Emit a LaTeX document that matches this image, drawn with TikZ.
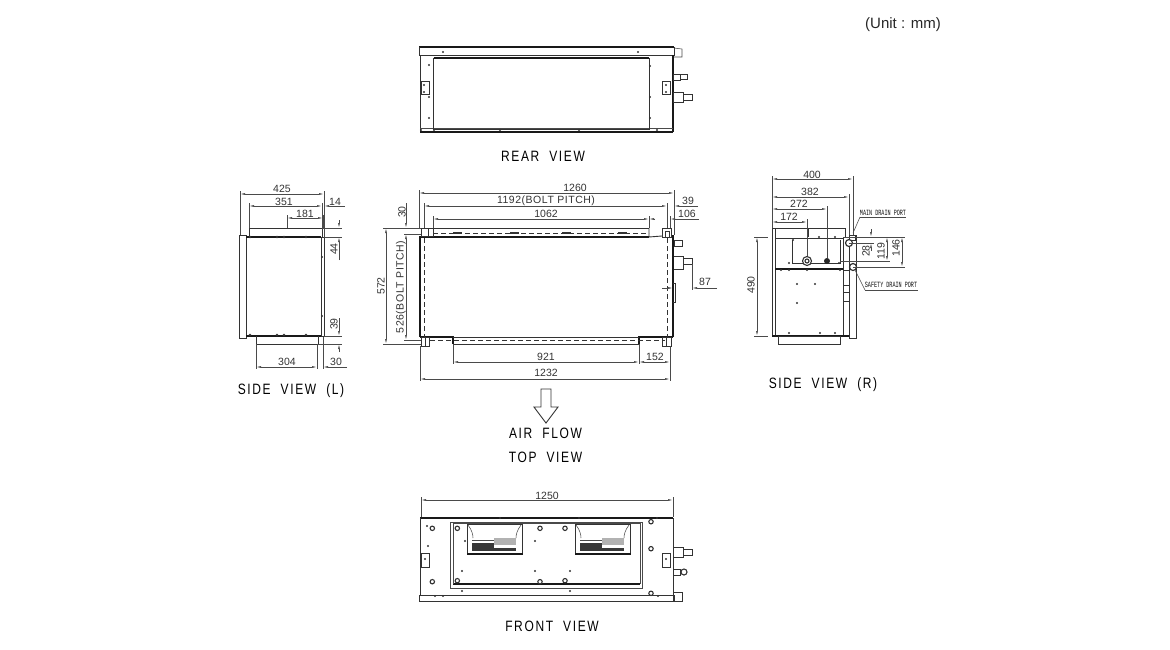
\documentclass[tikz,border=0pt]{standalone}
\usepackage{fontspec}
\setmainfont{Liberation Sans}
\newfontfamily\cadfont[FakeStretch=0.8,LetterSpace=11,WordSpace=2]{Liberation Sans}
\newfontfamily\boltfont[LetterSpace=5]{Liberation Sans}
\newfontfamily\portfont{Liberation Mono}
\usetikzlibrary{arrows.meta}
\definecolor{cadline}{HTML}{333333}
\definecolor{dimgray}{HTML}{4a4a4a}
\tikzset{
    edgeh/.style = {line width=1.5pt,draw=black!90},
    edgem/.style = {line width=0.9pt,draw=cadline},
    edget/.style = {line width=0.55pt,draw=dimgray},
    edged/.style = {line width=0.7pt,draw=cadline,dash pattern=on 5pt off 3pt},
    dimline/.style = {line width=0.55pt,draw=dimgray,{Latex[length=5pt,width=1.8pt]}-{Latex[length=5pt,width=1.8pt]}},
    tipline/.style = {line width=0.55pt,draw=dimgray,-{Latex[length=5pt,width=1.8pt]}},
    dimtext/.style = {inner sep=0pt,text=black!80,font=\fontsize{10.5}{12}\selectfont},
    bolttext/.style = {inner sep=0pt,text=black!80,font=\fontsize{10.5}{12}\boltfont},
    viewtext/.style = {inner sep=0pt,text=black,font=\fontsize{15}{17}\cadfont},
    porttext/.style = {inner sep=0pt,text=black!95,xscale=0.64,font=\fontsize{8}{9}\portfont},
    hole/.style = {line width=1.1pt,draw=cadline,fill=white},
    bolt/.style = {fill=cadline,draw=none},
    fanblock/.style = {fill=black!78,draw=none},
    fanstripe/.style = {fill=black!30,draw=none}
}

\begin{document}
\begin{tikzpicture}[x=1pt,y=-1pt]
\useasboundingbox (0,0) rectangle (1170,649);

\node[inner sep=0pt,text=black!85,font=\fontsize{15}{17}\selectfont] at (903,25) (unit) {(Unit : mm)};

% rear view
\draw[edgeh] (419,47) -- (674,47);
\draw[edgem] (419,47) -- (419,55) -- (674,55) -- (674,47);
\draw[edget] (674,48) -- (682,49) -- (682,57) -- (674,57);
\draw[edgem] (420,55) -- (420,132);
\draw[edgeh] (673,55) -- (673,132);
\draw[edgeh] (420,132) -- (673,132);
\draw[edget] (420,128) -- (673,128);
\draw[edgeh] (433.5,58) -- (649,58);
\draw[edgem] (433.5,58) -- (433.5,129) -- (649,129) -- (649,58);
\draw[edgem] (421,81) rectangle (429,94);
\draw[edgem] (662,81) rectangle (670,94);
\draw[edgem] (673,74) rectangle (680,80);
\draw[edgem] (680,74) rectangle (687,79);
\draw[edgem] (673,92) rectangle (683,102);
\draw[edgem] (683,94) rectangle (692,100);
\foreach \x/\y in {429/65,429/97,429/118,443/52,638/52,650/66,650/97,650/118,424/85,666/85,424/92,666/92,500/130,579/130,657/130,434/130,421/130}
    \fill[bolt] (\x,\y) circle (1.2pt);
\node[viewtext] at (543,156) (rearlabel) {REAR VIEW};

% side view left
\draw[edgem] (239,235) rectangle (246,338);
\draw[edgeh] (246,237) -- (321,237);
\draw[edgeh] (246,336) -- (321,336);
\draw[edgem] (321,237) -- (321,336);
\draw[edgem] (321,237) -- (324,237) -- (324,336) -- (321,336);
\draw[edgem] (249,237) -- (249,228) -- (322,228) -- (322,237);
\draw[edgem] (256,336) -- (256,344) -- (318,344) -- (318,336);
\foreach \x in {250,277,284,306} {
    \fill[bolt] (\x,237) circle (1.4pt);
    \fill[bolt] (\x,335) circle (1.4pt);
}
\foreach \y in {257,316} \fill[bolt] (322,\y) circle (1.1pt);
\draw[dimline] (240,194) -- (324,194);
\draw[edget] (240,191) -- (240,235);
\draw[edget] (324,191) -- (324,237);
\draw[dimline] (249,206) -- (322,206);
\draw[tipline] (345,206) -- (324,206);
\draw[edget] (249,203) -- (249,228);
\draw[edget] (322,203) -- (322,228);
\draw[dimline] (287,218) -- (323,218);
\draw[edget] (287,215) -- (287,228);
\draw[edget] (323,215) -- (323,228);
\draw[edget] (322,228) -- (342,228);
\draw[edget] (324,237) -- (342,237);
\draw[tipline] (339,220) -- (339,228);
\draw[tipline] (339,260) -- (339,237);
\draw[edget] (324,336) -- (342,336);
\draw[edget] (318,344) -- (342,344);
\draw[tipline] (339,318) -- (339,336);
\draw[tipline] (339,352) -- (339,344);
\draw[edget] (256,344) -- (256,369);
\draw[edget] (317,344) -- (317,369);
\draw[edget] (323,337) -- (323,369);
\draw[dimline] (256,367) -- (317,367);
\draw[tipline] (347,367) -- (323,367);
\node[dimtext] at (282,189) (sl425) {425};
\node[dimtext] at (284,202) (sl351) {351};
\node[dimtext] at (305,214) (sl181) {181};
\node[dimtext] at (335,202) (sl14) {14};
\node[dimtext,rotate=90] at (334,249) (sl44) {44};
\node[dimtext,rotate=90] at (334,324) (sl39) {39};
\node[dimtext] at (287,362) (sl304) {304};
\node[dimtext] at (336,362) (sl30) {30};
\node[viewtext] at (291,391) (sidellabel) {SIDE VIEW (L)};

% top view
\draw[edgem] (419,228) -- (649,228);
\draw[edgeh] (420,237) -- (649,237);
\draw[edgem] (649,228) -- (649,237) -- (662,236);
\draw[edged] (433,233) -- (649,233);
\draw[edgem] (421,228) rectangle (428,236);
\draw[edgem] (428,228) rectangle (433,236);
\draw[edgem] (662,228) rectangle (671,237);
\draw[edgem] (665,231) rectangle (669,237);
\draw[edgeh] (420,236) -- (420,337);
\draw[edgeh] (673,235) -- (673,337);
\draw[edgeh] (420,337) -- (453,337) -- (453,344);
\draw[edgeh] (673,337) -- (639,337) -- (639,344);
\draw[edgem] (453,337) -- (639,337);
\draw[edgem] (453,344) -- (639,344);
\draw[edged] (424,238) -- (424,337);
\draw[edged] (667,238) -- (667,337);
\draw[edged] (430,340) -- (665,340);
\draw[edgem] (421,337) rectangle (425,346);
\draw[edgem] (425,337) rectangle (429,346);
\draw[edgem] (662,337) rectangle (666,346);
\draw[edgem] (666,337) rectangle (671,346);
\foreach \x in {453,510,562,618} \fill[bolt] (\x,232) rectangle ++(9,2);
\draw[edgem] (674,240) rectangle (682,246);
\draw[edgem] (674,256) -- (683,256) -- (683,269) -- (674,269);
\draw[edgem] (683,258) rectangle (692,264);
\draw[edgem] (673,283) -- (675,283) -- (675,302) -- (673,302);
% top view dimensions
\draw[dimline] (419,193) -- (674,193);
\draw[edget] (419,190) -- (419,228);
\draw[edget] (674,190) -- (674,235);
\draw[dimline] (424,206) -- (667,206);
\draw[tipline] (698,206) -- (674,206);
\draw[edget] (424,203) -- (424,228);
\draw[edget] (667,203) -- (667,228);
\draw[dimline] (433,219) -- (649,219);
\draw[tipline] (655,219) -- (649,219);
\draw[tipline] (699,219) -- (670,219);
\draw[edget] (433,216) -- (433,228);
\draw[edget] (649,216) -- (649,228);
\draw[edget] (670,216) -- (670,228);
\draw[dimline] (453,362) -- (639,362);
\draw[dimline] (639,362) -- (670,362);
\draw[dimline] (420,379) -- (670,379);
\draw[edget] (453,344) -- (453,364);
\draw[edget] (639,344) -- (639,364);
\draw[edget] (420,346) -- (420,381);
\draw[edget] (670,346) -- (670,381);
\draw[dimline] (386,228) -- (386,344);
\draw[edget] (383,228) -- (421,228);
\draw[edget] (383,344) -- (421,344);
\draw[dimline] (406,234) -- (406,340);
\draw[edget] (404,234) -- (421,234);
\draw[edget] (404,340) -- (421,340);
\draw[tipline] (406,203) -- (406,228);
\draw[edget] (692,264) -- (692,290);
\draw[tipline] (662,288) -- (673,288);
\draw[tipline] (717,288) -- (692,288);
\node[dimtext] at (575,188) (tv1260) {1260};
\node[bolttext] at (546,200.5) (tv1192) {1192(BOLT PITCH)};
\node[dimtext] at (546,214) (tv1062) {1062};
\node[dimtext] at (688,201) (tv39) {39};
\node[dimtext] at (687,214) (tv106) {106};
\node[dimtext] at (705,282) (tv87) {87};
\node[dimtext] at (546,357) (tv921) {921};
\node[dimtext] at (655,357) (tv152) {152};
\node[dimtext] at (546,373) (tv1232) {1232};
\node[dimtext,rotate=90] at (381,286) (tv572) {572};
\node[bolttext,rotate=90] at (401,287) (tv526) {526(BOLT PITCH)};
\node[dimtext,rotate=90] at (402,212) (tv30) {30};
\draw[edgem] (541,389) -- (551,389) -- (551,407) -- (558,407) -- (546,423) -- (534,407) -- (541,407) -- cycle;
\node[viewtext] at (545.5,433) (airlabel) {AIR FLOW};
\node[viewtext] at (545.5,457) (toplabel) {TOP VIEW};

% side view right
\draw[edgem] (772,228) rectangle (775,336);
\draw[edgem] (772,228) -- (808,228);
\draw[edgem] (808,228) -- (845,228) -- (845,237);
\draw[edgem] (808,228) -- (808,237);
\draw[edgem] (775,238) -- (843,238) -- (843,335);
\draw[edgeh] (775,269) -- (843,269);
\draw[edgeh] (772,336) -- (849,336);
\draw[edgem] (849,235) rectangle (856,338);
\draw[edgem] (778,336) rectangle (840,344);
\draw[edgem] (792,240) -- (792,263) -- (840,263) -- (840,240);
\draw[edgem] (843,270) rectangle (849,285);
\draw[edgem] (843,292) rectangle (849,301);
\draw[edgem] (849,235) rectangle (855,240);
\draw[hole] (807,261) circle (4.5pt);
\draw[hole] (807,261) circle (2pt);
\fill[black!85] (827,261) circle (3pt);
\draw[hole,line width=1.2pt] (849,243) circle (3.5pt);
\draw[hole,line width=1.2pt] (853,267) circle (3.5pt);
\foreach \x/\y in {781/270,789/270,807/270,840/270,797/284,815/284,797/303,789/333,820/333,835/333,793/240,819/237,835/237,789/263,839/263}
    \fill[bolt] (\x,\y) circle (1.1pt);
\draw[dimline] (772,179) -- (853,179);
\draw[dimline] (772,197) -- (849,197);
\draw[dimline] (772,209) -- (827,209);
\draw[dimline] (772,222) -- (807,222);
\draw[edget] (772,176) -- (772,228);
\draw[edget] (853,176) -- (853,235);
\draw[edget] (849,194) -- (849,235);
\draw[edget] (827,206) -- (827,258);
\draw[edget] (807,219) -- (807,256);
\draw[dimline] (757,237) -- (757,336);
\draw[edget] (754,237) -- (768,237);
\draw[edget] (754,336) -- (768,336);
\draw[edget] (843,237) -- (905,237);
\draw[edget] (849,243) -- (874,243);
\draw[edget] (840,261) -- (890,261);
\draw[edget] (853,267) -- (905,267);
\draw[tipline] (871,229) -- (871,237);
\draw[tipline] (871,251) -- (871,243);
\draw[dimline] (887,237) -- (887,261);
\draw[dimline] (902,237) -- (902,267);
\draw[edget] (860,217) -- (906,217);
\draw[edget] (860,217) -- (853,233);
\draw[edget] (865,290) -- (918,290);
\draw[edget] (865,290) -- (855,270);
\node[dimtext] at (812,175) (sr400) {400};
\node[dimtext] at (810,192) (sr382) {382};
\node[dimtext] at (799,204) (sr272) {272};
\node[dimtext] at (789,217) (sr172) {172};
\node[dimtext,rotate=90] at (751,285) (sr490) {490};
\node[dimtext,rotate=90] at (866,251) (sr28) {28};
\node[dimtext,rotate=90] at (881,251) (sr119) {119};
\node[dimtext,rotate=90] at (896,248) (sr146) {146};
\node[porttext] at (883,213) (mainport) {MAIN DRAIN PORT};
\node[porttext] at (891,285) (safetyport) {SAFETY DRAIN PORT};
\node[viewtext] at (823,385) (siderlabel) {SIDE VIEW (R)};

% front view
\draw[edgeh] (420,518) -- (673,518);
\draw[edgem] (420,518) -- (420,595);
\draw[edgem] (673,518) -- (673,595);
\draw[edgem] (419,595) rectangle (674,601);
\draw[edgem] (673,592) rectangle (682,601);
\draw[edget] (450,522) rectangle (642,588);
\draw[edgeh] (453,584) -- (640,584);
\draw[edget] (453,584) -- (453,523) -- (640,523) -- (640,584);
\draw[edgem] (421,553) rectangle (429,567);
\draw[edgem] (662,553) rectangle (670,567);
\foreach \x in {467,575} {
    \draw[edgem] (\x,524) rectangle ++(55.5,30);
    \draw[edgeh] (\x,554) -- ++(55.5,0);
    \fill[fanblock] (\x+5,543) rectangle ++(22,8);
    \fill[fanblock] (\x+27,548) rectangle ++(22,3);
    \fill[fanstripe] (\x+27,538) rectangle ++(22,7);
    \draw[edget] (\x+5,540) -- ++(22,0);
    \draw[edget] (\x+1,525) .. controls (\x+5,530) and (\x+6,535) .. (\x+6,538);
    \draw[edget] (\x+54,525) .. controls (\x+50,530) and (\x+49,535) .. (\x+49,538);
}
\foreach \x/\y in {432.3/528.3,457.3/528.3,540/528.3,565/528.3,432.3/581.7,457.3/580.7,540/581.7,565/580.7,651/521.7,651/548.7,651/593.3}
    \draw[hole] (\x,\y) circle (2.2pt);
\foreach \x/\y in {427/526,428/546,465/541,462/571,535/541,535/571,570/571,462/591,570/591,435/596,443/596,658/596,500/518,579/518,657/518,425/559,666/559}
    \fill[bolt] (\x,\y) circle (1.1pt);
\draw[edgem] (673,547) rectangle (683,557);
\draw[edgem] (683,549) rectangle (692,555);
\draw[edgem] (673,569) rectangle (680,575);
\draw[hole] (684,572) circle (3pt);
\draw[dimline] (421,500) -- (673,500);
\draw[edget] (421,497) -- (421,517);
\draw[edget] (673,497) -- (673,517);
\node[dimtext] at (547,496) (fv1250) {1250};
\node[viewtext] at (552,626) (frontlabel) {FRONT VIEW};
\end{tikzpicture}
\end{document}
